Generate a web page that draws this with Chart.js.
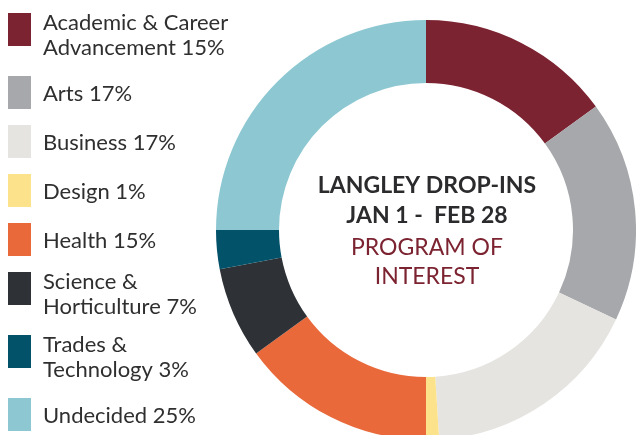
<!DOCTYPE html>
<html>
<head>
<meta charset="utf-8">
<script src="https://cdn.jsdelivr.net/npm/chart.js@4/dist/chart.umd.min.js"></script>
<style>
  html, body { margin: 0; padding: 0; background: #fff; overflow: hidden; }
  #wrap { width: 636px; height: 460px; }
</style>
</head>
<body>
<div id="wrap"><canvas id="programChart" width="636" height="460"></canvas></div>
<script>
// program of interest, Langley drop-ins Jan 1 - Feb 28
const labelLines = [
  ["Academic & Career", "Advancement 15%"],
  ["Arts 17%"],
  ["Business 17%"],
  ["Design 1%"],
  ["Health 15%"],
  ["Science &", "Horticulture 7%"],
  ["Trades &", "Technology 3%"],
  ["Undecided 25%"]
];
const categories = labelLines.map(l => l.join(" "));
const shares = [15, 17, 17, 1, 15, 7, 3, 25];
const colors = ["#7c2331", "#a6a8ab", "#e5e4e0", "#fde28c", "#e9693b", "#2e3136", "#02526a", "#8dc8d2"];
const centerLines = ["LANGLEY DROP-INS", "JAN 1 -  FEB 28", "PROGRAM OF", "INTEREST"];

const FONT = "Lato, 'Source Sans Pro', 'Open Sans', sans-serif";

// legend drawn on the left with wrapped labels
const sideLegend = {
  id: "sideLegend",
  afterDraw(chart) {
    const ctx = chart.ctx;
    ctx.save();
    ctx.font = "22px " + FONT;
    ctx.textBaseline = "middle";
    ctx.textAlign = "left";
    let y = 13;
    labelLines.forEach((lines, i) => {
      ctx.fillStyle = colors[i];
      ctx.fillRect(8, y, 23, 33);
      ctx.fillStyle = "#2f2f2f";
      if (lines.length === 1) {
        ctx.fillText(lines[0], 43, y + 18);
        y += 49;
      } else {
        ctx.fillText(lines[0], 43, y + 10);
        ctx.fillText(lines[1], 43, y + 35);
        y += 63;
      }
    });
    ctx.restore();
  }
};

// title inside the hole
const centerText = {
  id: "centerText",
  afterDraw(chart) {
    const arc = chart.getDatasetMeta(0).data[0];
    if (!arc) return;
    const ctx = chart.ctx;
    ctx.save();
    ctx.textAlign = "center";
    ctx.textBaseline = "middle";
    const cx = arc.x + 1;
    const ys = [arc.y - 44, arc.y - 14, arc.y + 18, arc.y + 47];
    centerLines.forEach((t, i) => {
      if (i < 2) {
        ctx.font = "bold 23px " + FONT;
        ctx.fillStyle = "#2b2b2d";
      } else {
        ctx.font = "23px " + FONT;
        ctx.fillStyle = "#7c2331";
      }
      ctx.fillText(t, cx, ys[i]);
    });
    ctx.restore();
  }
};

const ctx = document.getElementById("programChart").getContext("2d");
new Chart(ctx, {
  type: "doughnut",
  data: {
    labels: categories,
    datasets: [{
      data: shares,
      backgroundColor: colors,
      borderWidth: 0
    }]
  },
  options: {
    responsive: false,
    animation: false,
    cutout: "70%",
    layout: { padding: { left: 216, top: 20, right: 0, bottom: 20 } },
    plugins: {
      legend: { display: false },
      tooltip: { enabled: false }
    }
  },
  plugins: [sideLegend, centerText]
});
</script>
</body>
</html>
